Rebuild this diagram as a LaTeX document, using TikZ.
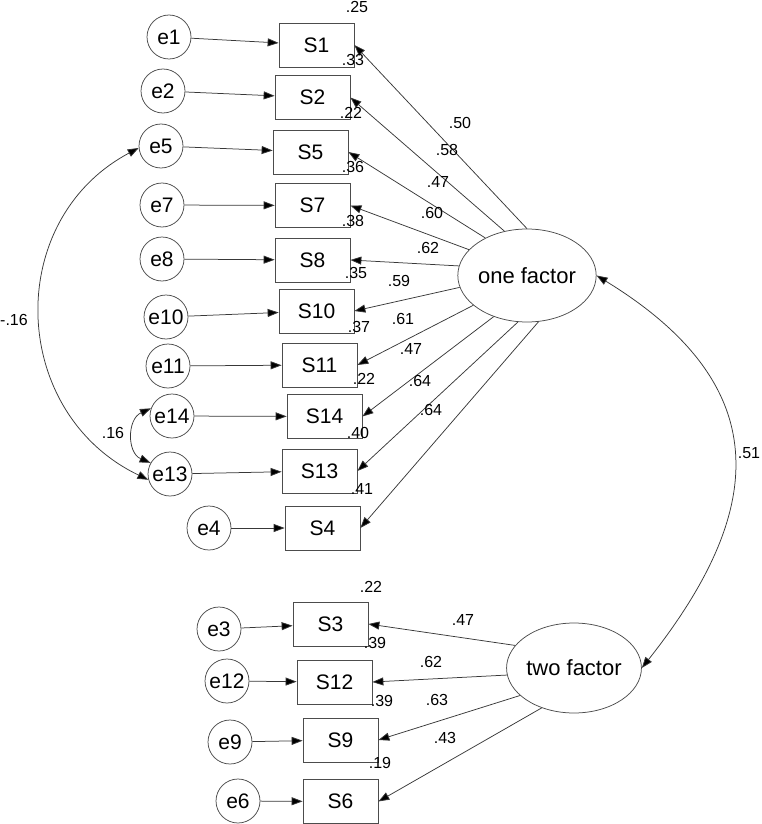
\documentclass[tikz,border=0pt]{standalone}
\usepackage{fontspec}
\setmainfont{Liberation Sans}
\usetikzlibrary{arrows.meta,shapes.geometric}
\begin{document}
\begin{tikzpicture}[x=1pt,y=-1pt,
  line width=0.75pt,
  >={Triangle[length=11pt,width=8pt,fill=black]},
  err/.style={circle,draw=black!70,minimum size=44pt,inner sep=0pt,font=\fontsize{21}{21}\selectfont},
  obs/.style={rectangle,draw=black!70,minimum width=75pt,minimum height=44pt,inner sep=0pt,font=\fontsize{21}{21}\selectfont},
  lat/.style={ellipse,draw=black!70,inner sep=0pt,font=\fontsize{22}{22}\selectfont},
  arr/.style={->,draw=black!78},
  cov/.style={<->,draw=black!78},
  num/.style={inner sep=0pt,font=\fontsize{16}{16}\selectfont},
]
\useasboundingbox (0,0) rectangle (762,824);

% latent factors
\node[lat,minimum width=110pt,minimum height=93pt] (of) at (527,275.5) {one factor};
\node[lat,minimum width=116pt,minimum height=90pt] (tf) at (574,668) {two factor};

% observed variables
\node[obs] (S1)  at (316.5,45)   {S1};
\node[obs] (S2)  at (312.5,97.5) {S2};
\node[obs] (S5)  at (310.5,152)  {S5};
\node[obs] (S7)  at (312.5,205.5){S7};
\node[obs] (S8)  at (312.5,260)  {S8};
\node[obs] (S10) at (316.5,311)  {S10};
\node[obs] (S11) at (319.5,365)  {S11};
\node[obs] (S14) at (324.5,416.5){S14};
\node[obs] (S13) at (319.5,471)  {S13};
\node[obs] (S4)  at (322.5,528)  {S4};
\node[obs] (S3)  at (330.5,624)  {S3};
\node[obs] (S12) at (334.5,682)  {S12};
\node[obs] (S9)  at (340.5,740)  {S9};
\node[obs] (S6)  at (340.5,801.5){S6};

% errors
\node[err] (e1)  at (169,37)  {e1};
\node[err] (e2)  at (163,91)  {e2};
\node[err] (e5)  at (161,146) {e5};
\node[err] (e7)  at (162,205) {e7};
\node[err] (e8)  at (162,259) {e8};
\node[err] (e10) at (166,317) {e10};
\node[err] (e11) at (168,366) {e11};
\node[err] (e14) at (172,416) {e14};
\node[err] (e13) at (170,474) {e13};
\node[err] (e4)  at (209,528) {e4};
\node[err] (e3)  at (219,629) {e3};
\node[err] (e12) at (227,681) {e12};
\node[err] (e9)  at (230,742) {e9};
\node[err] (e6)  at (238,801) {e6};

% error paths
\foreach \e/\s in {e1/S1,e2/S2,e5/S5,e7/S7,e8/S8,e10/S10,e11/S11,e14/S14,e13/S13,e4/S4,e3/S3,e12/S12,e9/S9,e6/S6}
  \draw[arr] (\e) -- (\s);

% loadings one factor
\foreach \a/\s in {90/S1,117/S2,138/S5,156/S7,172/S8,190/S10,209/S11,231/S14,259/S13,284/S4}
  \draw[arr] (of.\a) -- (\s.east);
% loadings two factor
\foreach \a/\s in {159/S3,186/S12,207/S9,231/S6}
  \draw[arr] (tf.\a) -- (\s.east);

% covariances
\draw[cov] (of.east) .. controls (782,389) and (762,516) .. (tf.east);
\draw[cov] (e5.185) .. controls (3,220) and (9,413) .. (e13.195);
\draw[cov] (e14.160) .. controls (127,419) and (127,453) .. (e13.150);

% covariance labels
\node[num] (c1) at (749,453) {.51};
\node[num] (c2) at (14,320) {-.16};
\node[num] (c3) at (113,433) {.16};

% squared multiple correlations
\node[num] (r1)  at (357,7)   {.25};
\node[num] (r2)  at (353,60)  {.33};
\node[num] (r3)  at (351,113) {.22};
\node[num] (r4)  at (353,167) {.36};
\node[num] (r5)  at (353,221) {.38};
\node[num] (r6)  at (356,273) {.35};
\node[num] (r7)  at (359,327) {.37};
\node[num] (r8)  at (364,379) {.22};
\node[num] (r9)  at (358,433) {.40};
\node[num] (r10) at (362,489) {.41};
\node[num] (r11) at (371,587) {.22};
\node[num] (r12) at (375,643) {.39};
\node[num] (r13) at (382,701) {.39};
\node[num] (r14) at (380,763) {.19};

% loading labels
\node[num] (l1)  at (460,123) {.50};
\node[num] (l2)  at (447,150) {.58};
\node[num] (l3)  at (438,182) {.47};
\node[num] (l4)  at (432,213) {.60};
\node[num] (l5)  at (428,248) {.62};
\node[num] (l6)  at (399,281) {.59};
\node[num] (l7)  at (403,319) {.61};
\node[num] (l8)  at (411,349) {.47};
\node[num] (l9)  at (420,381) {.64};
\node[num] (l10) at (431,410) {.64};
\node[num] (l11) at (463,620) {.47};
\node[num] (l12) at (431,662) {.62};
\node[num] (l13) at (437,700) {.63};
\node[num] (l14) at (445,738) {.43};
\end{tikzpicture}
\end{document}
